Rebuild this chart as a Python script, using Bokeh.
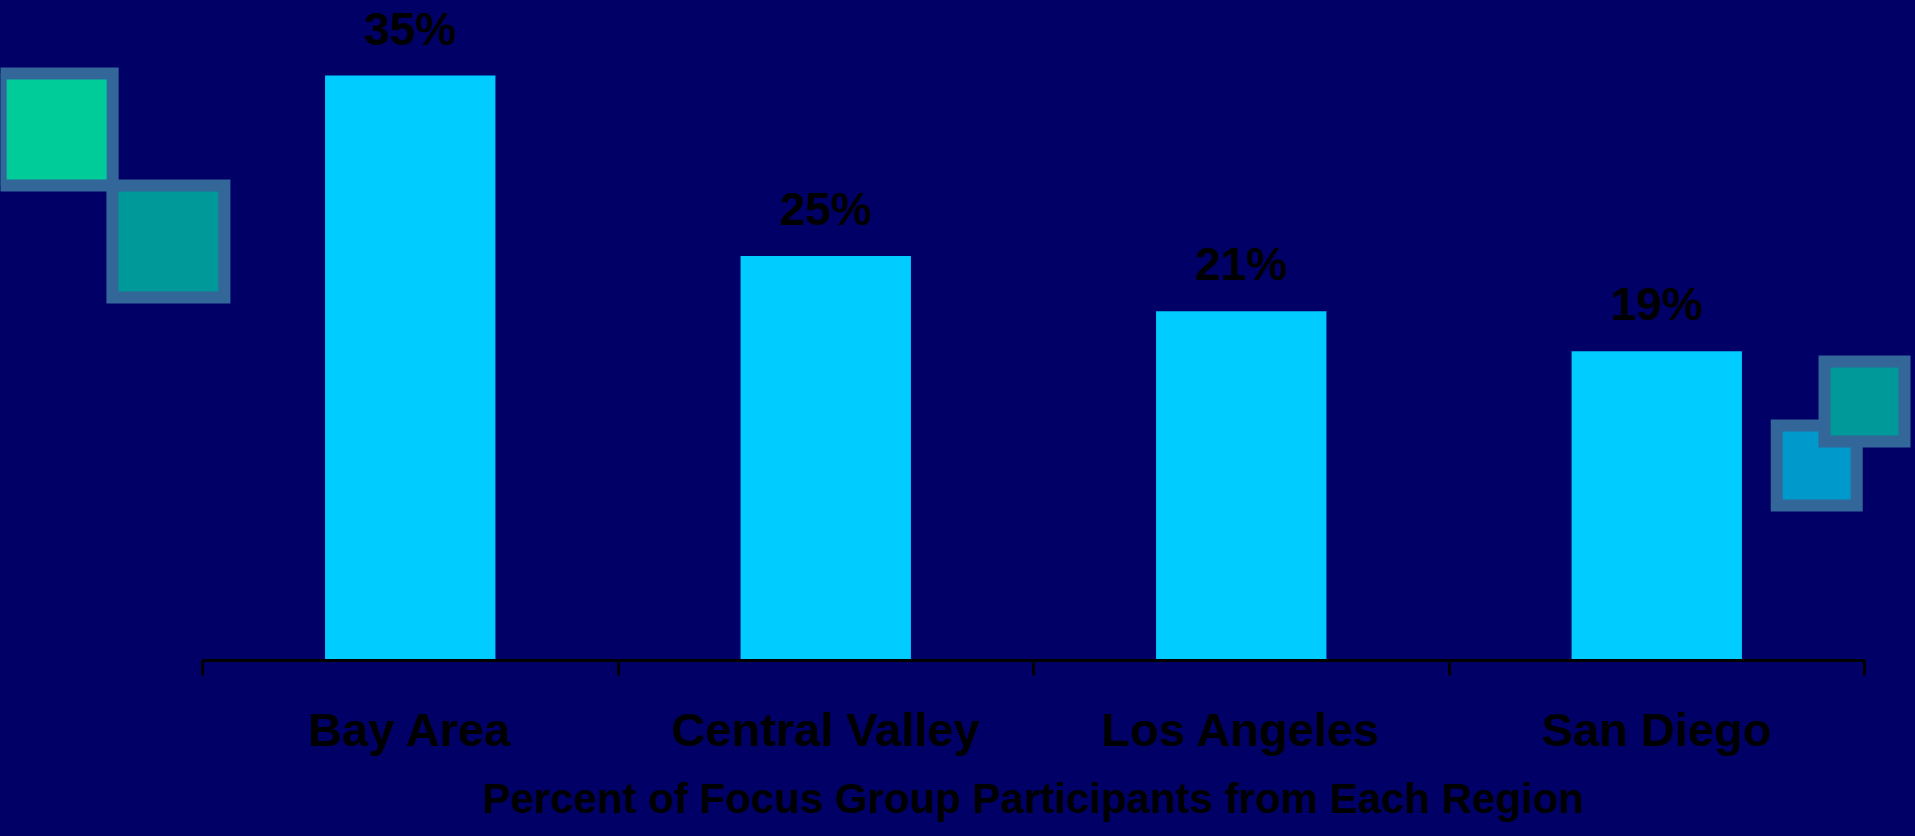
import numpy as np
from bokeh.plotting import figure
from bokeh.models import FixedTicker, ColumnDataSource, LabelSet, Title
from bokeh.core.properties import value
from bokeh.embed import file_html
from bokeh.resources import INLINE

# ---- data ----
regions = ["Bay Area", "Central Valley", "Los Angeles", "San Diego"]
shares = [35.0, 24.2, 20.9, 18.5]          # bar heights (%)
share_labels = ["35%", "25%", "21%", "19%"]  # printed value labels
axis_title = "Percent of Focus Group Participants from Each Region"

# decorative squares (data coords of centres, size in px, fill colour)
deco_x = [-0.351, -0.082, 3.885, 4.0]
deco_y = [31.77, 25.07, 11.67, 15.50]
deco_size = [112, 112, 80, 80]
deco_fill = ["#00CC99", "#009999", "#0099CC", "#009999"]

BG = "#000066"
BAR = "#00CCFF"
FONT = "Liberation Sans"

W, H = 1915, 836
px_per_cat = 415.5
px_per_unit = 585 / 35.0
x_start = -202 / px_per_cat
x_end = len(regions) + (W - 1864) / px_per_cat
y_end = 660 / px_per_unit

p = figure(width=W, height=H, output_backend="svg", toolbar_location=None,
           x_range=(x_start, x_end), y_range=(0, y_end),
           min_border_left=0, min_border_right=0, min_border_top=0,
           min_border_bottom=176)
p.background_fill_color = BG
p.border_fill_color = BG
p.outline_line_color = None
p.styles = {"background-color": BG}
p.xgrid.visible = False
p.ygrid.visible = False
p.yaxis.visible = False

xc = np.arange(len(regions)) + 0.5
src = ColumnDataSource(dict(x=xc, top=shares, lab=share_labels))
p.vbar(x="x", top="top", width=0.41, bottom=0, source=src,
       fill_color=BAR, line_color=None)

labels = LabelSet(x="x", y="top", text="lab", source=src, y_offset=31,
                  text_align="center", text_baseline="alphabetic",
                  text_font=value(FONT), text_font_style="bold",
                  text_font_size="46px", text_color="black")
p.add_layout(labels)

p.rect(x=deco_x, y=deco_y, width=deco_size, height=deco_size,
       width_units="screen", height_units="screen",
       fill_color=deco_fill, line_color="#336699", line_width=12,
       line_join="miter")

ax = p.xaxis[0]
ax.ticker = FixedTicker(ticks=list(xc), minor_ticks=list(range(len(regions) + 1)))
ax.major_label_overrides = {float(x): r for x, r in zip(xc, regions)}
ax.bounds = (0, len(regions))
ax.axis_line_color = "black"
ax.axis_line_width = 3
ax.major_tick_line_color = None
ax.major_tick_out = 0
ax.major_tick_in = 0
ax.minor_tick_line_color = "black"
ax.minor_tick_line_width = 3
ax.minor_tick_out = 15
ax.minor_tick_in = 0
ax.major_label_standoff = 27
ax.major_label_text_font = FONT
ax.major_label_text_font_style = "bold"
ax.major_label_text_font_size = "47px"
ax.major_label_text_color = "black"

# axis title, centred under the category span (which is off-centre in the canvas)
title = Title(text=axis_title, align="left", offset=482, standoff=29,
              text_font=FONT, text_font_style="bold",
              text_font_size="42px", text_color="black")
p.add_layout(title, "below")

open("out.html", "w").write(file_html(p, INLINE))
